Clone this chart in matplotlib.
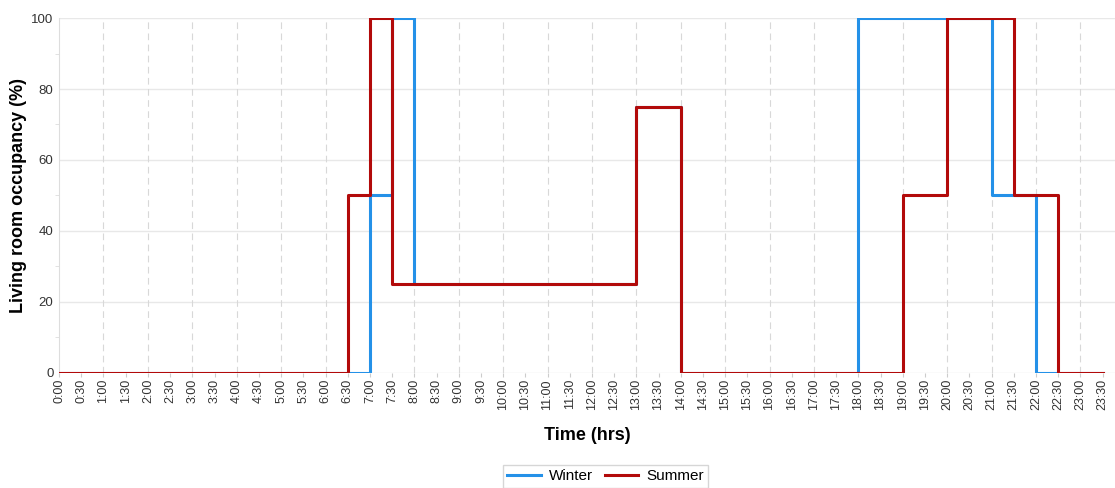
import numpy as np
import matplotlib.pyplot as plt

plt.rcParams['font.family'] = ['Liberation Sans', 'DejaVu Sans']

# half-hour slots 0:00 .. 23:30
time_labels = ["%d:%02d" % (h, m) for h in range(24) for m in (0, 30)]
hours = np.arange(48) * 0.5

# occupancy (%) for each half-hour slot
winter = [0] * 14 + [50, 100] + [25] * 10 + [75, 75] + [0] * 8 + [100] * 6 + [50, 50] + [0, 0, 0, 0]
summer = [0] * 13 + [50, 100] + [25] * 11 + [75, 75] + [0] * 10 + [50, 50] + [100, 100, 100] + [50, 50] + [0, 0, 0]

blue = "#2491e8"
red = "#b20a0a"

fig = plt.figure(figsize=(11.15, 4.88), dpi=100)
ax = fig.add_axes([0.053, 0.236, 0.947, 0.727])

ax.step(hours, winter, where="post", color=blue, lw=2.2, label="Winter", zorder=3)
ax.step(hours, summer, where="post", color=red, lw=2.2, label="Summer", zorder=4)

ax.set_xlim(0, 23.78)
ax.set_ylim(0, 100)
ax.set_xticks(hours)
ax.set_xticklabels(time_labels, rotation=90, fontsize=9, color="#333333")
ax.set_yticks(range(0, 101, 20))
ax.set_yticks(range(10, 100, 20), minor=True)
ax.tick_params(axis="y", labelsize=9.5, colors="#333333", length=0, pad=4)
ax.tick_params(axis="y", which="minor", length=3, color="#dddddd")
ax.tick_params(axis="x", length=3, color="#cccccc", pad=1.5)

ax.grid(axis="y", color="#e8e8e8", lw=1)
for h in range(1, 24):
    ax.axvline(h, color="#d8d8d8", lw=0.8, ls=(0, (6, 4)), zorder=1)
ax.set_axisbelow(True)

for s in ["top", "right", "bottom"]:
    ax.spines[s].set_visible(False)
ax.spines["left"].set_color("#dddddd")

ax.set_ylabel("Living room occupancy (%)", fontsize=13, fontweight="bold", labelpad=3)
ax.set_xlabel("Time (hrs)", fontsize=13, fontweight="bold", labelpad=12)

fig.legend(loc="center", bbox_to_anchor=(0.543, 0.024), ncol=2, frameon=True,
           fontsize=11, handlelength=2.2, columnspacing=0.8, handletextpad=0.5,
           fancybox=False, edgecolor="#cccccc", borderpad=0.3)

fig.savefig("out.png", dpi=100)
